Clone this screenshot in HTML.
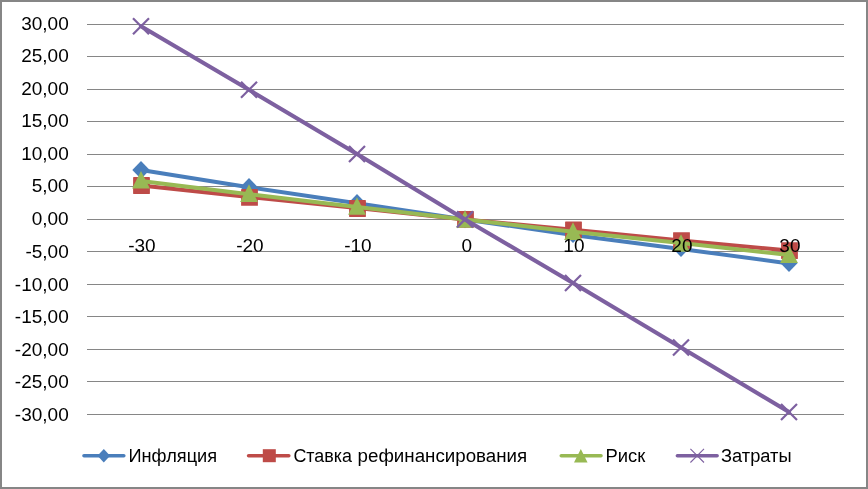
<!DOCTYPE html>
<html><head><meta charset="utf-8"><title>chart</title>
<style>
html,body{margin:0;padding:0;background:#fff;}
body{width:868px;height:489px;overflow:hidden;font-family:"Liberation Sans",sans-serif;}
svg{display:block;}
text{font-family:"Liberation Sans",sans-serif;fill:#000;}
.t{filter:url(#gs);}
</style></head><body>
<svg width="868" height="489" viewBox="0 0 868 489">
<defs><filter id="gs" x="0" y="0" width="100%" height="100%" filterUnits="userSpaceOnUse" color-interpolation-filters="sRGB"><feColorMatrix type="saturate" values="0"/></filter></defs>
<rect x="0" y="0" width="868" height="489" fill="#868686"/>
<rect x="2" y="2" width="864" height="485" fill="#ffffff"/>
<g fill="#868686" shape-rendering="crispEdges">
<rect x="87" y="24" width="757" height="1"/>
<rect x="87" y="56" width="757" height="1"/>
<rect x="87" y="89" width="757" height="1"/>
<rect x="87" y="121" width="757" height="1"/>
<rect x="87" y="154" width="757" height="1"/>
<rect x="87" y="186" width="757" height="1"/>
<rect x="87" y="219" width="757" height="1"/>
<rect x="87" y="251" width="757" height="1"/>
<rect x="87" y="284" width="757" height="1"/>
<rect x="87" y="316" width="757" height="1"/>
<rect x="87" y="349" width="757" height="1"/>
<rect x="87" y="381" width="757" height="1"/>
<rect x="87" y="414" width="757" height="1"/>
</g>
<polyline points="141.0,170.0 249.0,187.2 357.0,203.2 465.0,219.4 573.0,234.9 681.0,248.9 789.0,263.4" fill="none" stroke="#4A7EBB" stroke-width="4" stroke-linejoin="round" stroke-linecap="round"/>
<path d="M141.0 161.1 L149.7 170.0 L141.0 178.9 L132.3 170.0 Z" fill="#4A7EBB"/>
<path d="M249.0 178.1 L257.7 187.0 L249.0 195.9 L240.3 187.0 Z" fill="#4A7EBB"/>
<path d="M357.0 194.1 L365.7 203.0 L357.0 211.9 L348.3 203.0 Z" fill="#4A7EBB"/>
<path d="M465.0 210.5 L473.7 219.4 L465.0 228.3 L456.3 219.4 Z" fill="#4A7EBB"/>
<path d="M573.0 225.3 L581.7 234.2 L573.0 243.1 L564.3 234.2 Z" fill="#4A7EBB"/>
<path d="M681.0 239.2 L689.7 248.1 L681.0 257.0 L672.3 248.1 Z" fill="#4A7EBB"/>
<path d="M789.0 254.1 L797.7 263.0 L789.0 271.9 L780.3 263.0 Z" fill="#4A7EBB"/>
<polyline points="141.0,185.4 249.0,197.0 357.0,208.1 465.0,219.4 573.0,229.8 681.0,240.5 789.0,250.5" fill="none" stroke="#BE4B48" stroke-width="4" stroke-linejoin="round" stroke-linecap="round"/>
<rect x="133.1" y="177.1" width="16.8" height="16.8" rx="0.4" fill="#BE4B48"/>
<rect x="241.1" y="189.0" width="16.8" height="16.8" rx="0.4" fill="#BE4B48"/>
<rect x="349.1" y="200.1" width="16.8" height="16.8" rx="0.4" fill="#BE4B48"/>
<rect x="457.1" y="211.0" width="16.8" height="16.8" rx="0.4" fill="#BE4B48"/>
<rect x="565.1" y="221.5" width="16.8" height="16.8" rx="0.4" fill="#BE4B48"/>
<rect x="673.1" y="232.2" width="16.8" height="16.8" rx="0.4" fill="#BE4B48"/>
<rect x="781.1" y="242.2" width="16.8" height="16.8" rx="0.4" fill="#BE4B48"/>
<polyline points="141.0,180.9 249.0,194.2 357.0,207.1 465.0,219.5 573.0,231.7 681.0,243.0 789.0,254.9" fill="none" stroke="#98B954" stroke-width="4" stroke-linejoin="round" stroke-linecap="round"/>
<path d="M141.0 171.0 L149.9 188.6 L132.1 188.6 Z" fill="#98B954"/>
<path d="M249.0 184.3 L257.9 201.9 L240.1 201.9 Z" fill="#98B954"/>
<path d="M357.0 197.2 L365.9 214.8 L348.1 214.8 Z" fill="#98B954"/>
<path d="M465.0 210.2 L473.9 227.8 L456.1 227.8 Z" fill="#98B954"/>
<path d="M573.0 222.3 L581.9 239.9 L564.1 239.9 Z" fill="#98B954"/>
<path d="M681.0 234.2 L689.9 251.8 L672.1 251.8 Z" fill="#98B954"/>
<path d="M789.0 245.5 L797.9 263.1 L780.1 263.1 Z" fill="#98B954"/>
<polyline points="141.0,26.2 249.0,89.8 357.0,154.0 465.0,219.4 573.0,283.0 681.0,347.5 789.0,412.0" fill="none" stroke="#7D60A0" stroke-width="4.1" stroke-linejoin="round" stroke-linecap="round"/>
<path d="M133.0 18.2 L149.0 34.2 M149.0 18.2 L133.0 34.2" fill="none" stroke="#7D60A0" stroke-width="2.2"/>
<path d="M241.0 81.8 L257.0 97.8 M257.0 81.8 L241.0 97.8" fill="none" stroke="#7D60A0" stroke-width="2.2"/>
<path d="M349.0 146.0 L365.0 162.0 M365.0 146.0 L349.0 162.0" fill="none" stroke="#7D60A0" stroke-width="2.2"/>
<path d="M457.0 211.4 L473.0 227.4 M473.0 211.4 L457.0 227.4" fill="none" stroke="#7D60A0" stroke-width="2.2"/>
<path d="M565.0 275.0 L581.0 291.0 M581.0 275.0 L565.0 291.0" fill="none" stroke="#7D60A0" stroke-width="2.2"/>
<path d="M673.0 339.5 L689.0 355.5 M689.0 339.5 L673.0 355.5" fill="none" stroke="#7D60A0" stroke-width="2.2"/>
<path d="M781.0 404.0 L797.0 420.0 M797.0 404.0 L781.0 420.0" fill="none" stroke="#7D60A0" stroke-width="2.2"/>
<g class="t" font-size="18.1" text-anchor="end">
<text transform="translate(68.7,29.90) scale(1.05,1)">30,00</text>
<text transform="translate(68.7,61.98) scale(1.05,1)">25,00</text>
<text transform="translate(68.7,95.07) scale(1.05,1)">20,00</text>
<text transform="translate(68.7,127.16) scale(1.05,1)">15,00</text>
<text transform="translate(68.7,160.24) scale(1.05,1)">10,00</text>
<text transform="translate(68.7,192.33) scale(1.05,1)">5,00</text>
<text transform="translate(68.7,225.41) scale(1.05,1)">0,00</text>
<text transform="translate(68.7,257.50) scale(1.05,1)">-5,00</text>
<text transform="translate(68.7,290.58) scale(1.05,1)">-10,00</text>
<text transform="translate(68.7,322.66) scale(1.05,1)">-15,00</text>
<text transform="translate(68.7,355.75) scale(1.05,1)">-20,00</text>
<text transform="translate(68.7,387.83) scale(1.05,1)">-25,00</text>
<text transform="translate(68.7,420.92) scale(1.05,1)">-30,00</text>
</g>
<g class="t" font-size="18.1" text-anchor="middle">
<text transform="translate(141.9,252.0) scale(1.05,1)">-30</text>
<text transform="translate(249.9,252.0) scale(1.05,1)">-20</text>
<text transform="translate(357.9,252.0) scale(1.05,1)">-10</text>
<text transform="translate(466.7,252.0) scale(1.05,1)">0</text>
<text transform="translate(573.9,252.0) scale(1.05,1)">10</text>
<text transform="translate(681.9,252.0) scale(1.05,1)">20</text>
<text transform="translate(789.9,252.0) scale(1.05,1)">30</text>
</g>
<line x1="84" y1="455.7" x2="123.8" y2="455.7" stroke="#4A7EBB" stroke-width="3.6" stroke-linecap="round"/>
<path d="M103.8 448.9 L110.1 455.7 L103.8 462.5 L97.5 455.7 Z" fill="#4A7EBB"/>
<line x1="248.6" y1="455.7" x2="288.8" y2="455.7" stroke="#BE4B48" stroke-width="3.6" stroke-linecap="round"/>
<rect x="262.8" y="449.2" width="13.0" height="13.0" fill="#BE4B48"/>
<line x1="561.3" y1="455.7" x2="601" y2="455.7" stroke="#98B954" stroke-width="3.6" stroke-linecap="round"/>
<path d="M580.8 448.9 L587.5999999999999 462.5 L574.0 462.5 Z" fill="#98B954"/>
<line x1="677.4" y1="455.7" x2="717.1" y2="455.7" stroke="#7D60A0" stroke-width="3.6" stroke-linecap="round"/>
<path d="M690.4000000000001 448.9 L704.0 462.5 M704.0 448.9 L690.4000000000001 462.5" fill="none" stroke="#7D60A0" stroke-width="1.1"/>
<g class="t" font-size="18.8">
<text x="128.5" y="462.1" textLength="88.6" lengthAdjust="spacingAndGlyphs">Инфляция</text>
<text x="293.4" y="462.1" textLength="58.6" lengthAdjust="spacingAndGlyphs">Ставка</text>
<text x="357.6" y="462.1" textLength="169.6" lengthAdjust="spacingAndGlyphs">рефинансирования</text>
<text x="605.5" y="462.1" textLength="39.8" lengthAdjust="spacingAndGlyphs">Риск</text>
<text x="721.0" y="462.1" textLength="70.6" lengthAdjust="spacingAndGlyphs">Затраты</text>
</g>
</svg></body></html>
